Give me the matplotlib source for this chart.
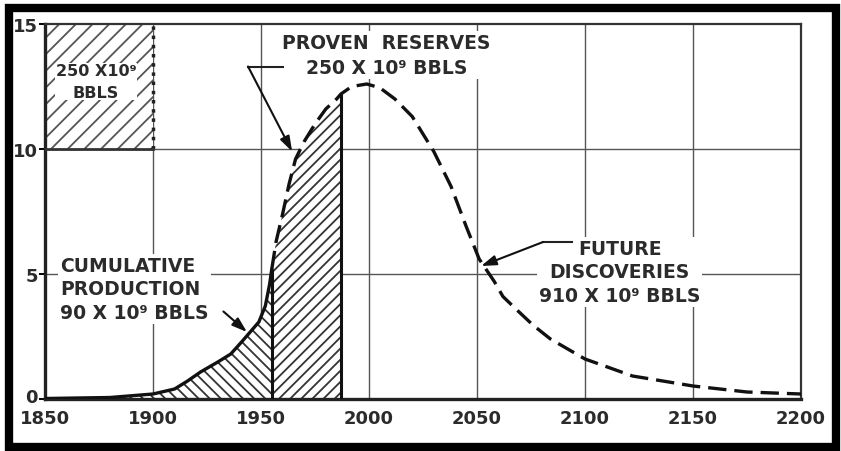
import matplotlib
matplotlib.use("Agg")
import matplotlib.pyplot as plt
import matplotlib.transforms as mtransforms
import numpy as np
from matplotlib.patches import Rectangle

# world crude-oil production rate, 10^9 bbl per year
hist_years = [1850, 1880, 1900, 1910, 1916, 1922, 1930, 1936, 1941, 1945, 1949, 1952, 1954, 1955]
hist_prod = [0.02, 0.06, 0.2, 0.4, 0.72, 1.08, 1.48, 1.8, 2.28, 2.68, 3.08, 3.72, 4.6, 5.2]

future_years = [1955, 1957, 1960, 1963, 1966, 1970, 1975, 1980, 1985, 1987, 1992, 1999,
                2005, 2012, 2020, 2030, 2038, 2045, 2051, 2058, 2062, 2068, 2076, 2084,
                2100, 2122, 2150, 2175, 2200]
future_prod = [5.2, 6.3, 7.4, 8.6, 9.6, 10.3, 11.0, 11.6, 12.0, 12.2, 12.5, 12.6,
               12.45, 12.0, 11.3, 9.9, 8.5, 6.9, 5.6, 4.7, 4.1, 3.6, 2.95, 2.4,
               1.6, 0.92, 0.52, 0.28, 0.2]

production_end = 1955
reserves_end = 1987
scale_years = [1850, 1900]
scale_levels = [10, 15]

x_ticks = [1850, 1900, 1950, 2000, 2050, 2100, 2150, 2200]
y_ticks = [0, 5, 10, 15]

plt.rcParams['font.family'] = ['DejaVu Sans']
plt.rcParams['font.weight'] = 'bold'
plt.rcParams['hatch.linewidth'] = 1.3
txt = '#2b2b2b'

fig = plt.figure(figsize=(8.41, 4.52), dpi=100)
ax = fig.add_axes([45/841, 52/452, 756/841, 375/452])
ax.set_xlim(1850, 2200)
ax.set_ylim(0, 15)

# grid
for x in x_ticks[1:-1]:
    ax.axvline(x, color='#555555', lw=1.0, zorder=1)
for y in y_ticks[1:-1]:
    ax.axhline(y, color='#555555', lw=1.0, zorder=1)

# scale block 50 yr x 5e9 bbl/yr = 250e9 bbl
ax.fill_between(scale_years, scale_levels[0], scale_levels[1], facecolor='white',
                edgecolor='#555555', hatch='//', lw=0, zorder=2)
ax.plot([scale_years[1], scale_years[1]], scale_levels, color='#222222', lw=2.5, ls=':', zorder=3)
ax.plot(scale_years, [scale_levels[0]] * 2, color='#333333', lw=2, zorder=3)

# cumulative production
hy = np.array(hist_years)
hp = np.array(hist_prod)
ax.fill_between(hy, 0, hp, facecolor='white', edgecolor='#333333', hatch='\\\\\\', lw=0, zorder=2)

# proven reserves
fy = np.array(future_years)
fp = np.array(future_prod)
m = fy <= reserves_end
ax.fill_between(fy[m], 0, fp[m], facecolor='white', edgecolor='#333333', hatch='///', lw=0, zorder=2)
ax.vlines([production_end], 0, np.interp(production_end, fy, fp), color='#111111', lw=2.2, zorder=4)
ax.vlines([reserves_end], 0, np.interp(reserves_end, fy, fp), color='#111111', lw=2.2, zorder=4)

ax.plot(hy, hp, color='#111111', lw=2.4, zorder=5, solid_capstyle='round')
ax.plot(fy, fp, color='#111111', lw=2.4, ls=(0, (5.5, 2.4)), zorder=5)

# spines / ticks
for s in ['left', 'bottom']:
    ax.spines[s].set_linewidth(2.4)
    ax.spines[s].set_color('#222222')
for s in ['top', 'right']:
    ax.spines[s].set_linewidth(1.6)
    ax.spines[s].set_color('#333333')
ax.set_xticks(x_ticks)
ax.set_yticks(y_ticks)
ax.tick_params(axis='x', length=0, pad=7.5, labelsize=13, labelcolor=txt)
ax.tick_params(axis='y', length=4, width=1.4, pad=1, labelsize=13, labelcolor=txt)
lab0 = ax.get_yticklabels()[0]
lab0.set_transform(lab0.get_transform() + mtransforms.ScaledTranslation(0, 4/100, fig.dpi_scale_trans))

box = dict(facecolor='white', edgecolor='none', pad=1.5)

ax.text(1873.6, 12.7, '250 X10⁹\nBBLS', ha='center', va='center', fontsize=11.5,
        color=txt, linespacing=1.5, zorder=6, bbox=dict(facecolor='white', edgecolor='none', pad=0.5))

ax.text(2008, 13.75, 'PROVEN  RESERVES\n250 X 10⁹ BBLS', ha='center', va='center',
        fontsize=13.5, color=txt, linespacing=1.4, zorder=6, bbox=box)
ax.plot([1944, 1960], [13.3, 13.3], color='#222222', lw=1.5, zorder=6)
ax.annotate('', xy=(1964.4, 9.9), xytext=(1944, 13.3), zorder=6,
            arrowprops=dict(arrowstyle='-|>,head_length=0.9,head_width=0.3',
                            color='#111111', lw=1.5, shrinkA=0, shrinkB=0))

ax.text(1857, 4.4, 'CUMULATIVE\nPRODUCTION\n90 X 10⁹ BBLS', ha='left', va='center',
        fontsize=13.5, color=txt, linespacing=1.3, zorder=6, bbox=box)
ax.annotate('', xy=(1943.5, 2.68), xytext=(1932.6, 3.5), zorder=6,
            arrowprops=dict(arrowstyle='-|>,head_length=0.9,head_width=0.3',
                            color='#111111', lw=1.5, shrinkA=0, shrinkB=0))

ax.text(2116, 5.08, 'FUTURE\nDISCOVERIES\n910 X 10⁹ BBLS', ha='center', va='center',
        fontsize=13.5, color=txt, linespacing=1.3, zorder=6, bbox=box)
ax.plot([2080.6, 2094], [6.28, 6.28], color='#222222', lw=1.5, zorder=6)
ax.annotate('', xy=(2051.9, 5.32), xytext=(2080.6, 6.28), zorder=6,
            arrowprops=dict(arrowstyle='-|>,head_length=0.9,head_width=0.3',
                            color='#111111', lw=1.5, shrinkA=0, shrinkB=0))

# black photo frame
fig.patches.append(Rectangle((9/841, 4/452), 827/841, 439/452, transform=fig.transFigure,
                             fill=False, edgecolor='black', lw=6))

fig.savefig('out.png', dpi=100)
